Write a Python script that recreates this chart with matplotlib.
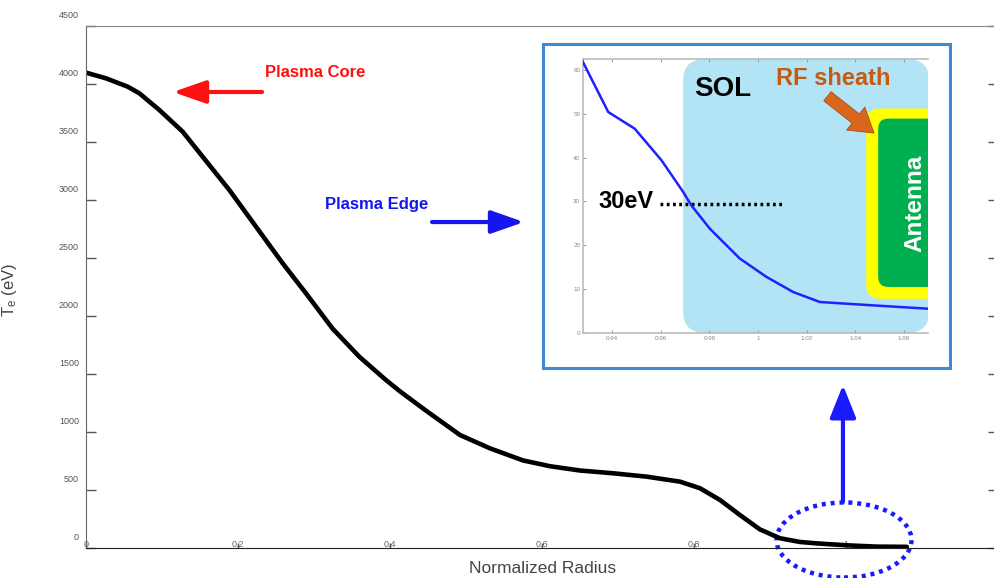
import matplotlib.pyplot as plt
import matplotlib.transforms as mtransforms
from matplotlib.patches import Ellipse, FancyBboxPatch, FancyArrowPatch, Rectangle

plt.rcParams['font.family'] = ['Liberation Sans', 'DejaVu Sans']

# main profile: Te (eV) vs normalized radius
radius = [0.0, 0.0263, 0.0548, 0.0702, 0.0965, 0.1272, 0.1535, 0.1886, 0.2237,
          0.2588, 0.2895, 0.3246, 0.3596, 0.3947, 0.4132, 0.4482, 0.4921,
          0.5316, 0.575, 0.6105, 0.65, 0.6939, 0.7377, 0.7816, 0.8079, 0.8342,
          0.8605, 0.8868, 0.9132, 0.9395, 0.9614, 0.975, 1.005, 1.04, 1.08]
te = [4098, 4049, 3977, 3920, 3776, 3589, 3373, 3086, 2770,
      2454, 2195, 1890, 1649, 1448, 1350, 1180, 974,
      859, 755, 705, 668, 644, 615, 572, 515, 414,
      284, 160, 84, 52, 40, 34, 22, 12, 10]

# zoomed edge profile (inset)
radius_edge = [0.9278, 0.9384, 0.9493, 0.9603, 0.9692, 0.9726, 0.9802, 0.9925,
               1.0035, 1.0145, 1.0255, 1.0474, 1.0698]
te_edge = [62.0, 50.4, 46.6, 39.4, 32.2, 29.1, 23.8, 17.0, 12.8, 9.35, 7.07, 6.3, 5.55]

xticks = [0, 0.2, 0.4, 0.6, 0.8, 1.0]
xtick_labels = ['0', '0.2', '0.4', '0.6', '0.8', '1']
yticks = [0, 500, 1000, 1500, 2000, 2500, 3000, 3500, 4000, 4500]
inset_xticks = [0.94, 0.96, 0.98, 1.0, 1.02, 1.04, 1.06]
inset_xtick_labels = ['0.94', '0.96', '0.98', '1', '1.02', '1.04', '1.06']
inset_yticks = [0, 10, 20, 30, 40, 50, 60]

fig = plt.figure(figsize=(9.95, 5.78), dpi=100)
W, H = 995, 578

# ---- main axes ----
ax = fig.add_axes([86 / W, 30 / H, 912 / W, 522 / H])
ax.set_zorder(0)
ax.plot(radius, te, color='black', lw=3.3, solid_capstyle='round',
        solid_joinstyle='round')
ax.set_xlim(0, 1.2)
ax.set_ylim(0, 4500)
ax.set_xticks(xticks)
ax.set_xticklabels(xtick_labels)
ax.set_yticks(yticks)
ax.tick_params(axis='both', direction='in', colors='#555555', labelsize=6.5,
               width=1.0)
ax.tick_params(axis='y', length=7, pad=5, right=True)
ax.tick_params(axis='x', length=3.5, pad=-6)
for lab in ax.get_xticklabels():
    lab.set_color('#666666')
off = mtransforms.ScaledTranslation(0, 11 / 100, fig.dpi_scale_trans)
for lab in ax.get_yticklabels():
    lab.set_transform(lab.get_transform() + off)
ax.spines['left'].set_color('#666666')
ax.spines['top'].set_color('#888888')
ax.spines['bottom'].set_color('#222222')
ax.spines['right'].set_color('#888888')

ax.set_xlabel('Normalized Radius', fontsize=12.5, color='#444444')
ax.xaxis.set_label_coords((543 - 86) / 912, (548 - 561) / 522)
ax.set_ylabel(r'$\mathregular{T_e}$ (eV)', fontsize=12, color='#444444')
ax.yaxis.set_label_coords((19 - 86) / 912, (548 - 290) / 522)

# annotations on the main plot
ax.text(0.2355, 4095, 'Plasma Core', color='#ff1010', fontsize=12,
        fontweight='bold', ha='left', va='center')
ax.annotate('', xy=(0.1145, 3931), xytext=(0.2316, 3931),
            arrowprops=dict(arrowstyle='-|>,head_length=1.0,head_width=0.35',
                            color='#ff1010', lw=3, mutation_scale=20,
                            shrinkA=0, shrinkB=0))
ax.text(0.3145, 2957, 'Plasma Edge', color='#1515ee', fontsize=12,
        fontweight='bold', ha='left', va='center')
ax.annotate('', xy=(0.5763, 2810), xytext=(0.4553, 2810),
            arrowprops=dict(arrowstyle='-|>,head_length=1.0,head_width=0.35',
                            color='#1515ee', lw=3, mutation_scale=20,
                            shrinkA=0, shrinkB=0))
ax.add_patch(Ellipse((0.9974, 69), 0.1776, 647, fill=False, ec='#1a1aff',
                     lw=3.2, ls=(0, (0.9, 1.1)), clip_on=False))
ax.annotate('', xy=(0.996, 1405), xytext=(0.996, 397),
            arrowprops=dict(arrowstyle='-|>,head_length=1.0,head_width=0.4',
                            color='#1a1aff', lw=3, mutation_scale=20,
                            shrinkA=0, shrinkB=0))

# ---- inset frame ----
frame = Rectangle((543 / W, (H - 368) / H), (950 - 543) / W, (368 - 44) / H,
                  transform=fig.transFigure, fc='white', ec='#3d8bd4', lw=2.2,
                  zorder=1)
fig.add_artist(frame)

# ---- inset axes ----
ins = fig.add_axes([583 / W, (H - 333) / H, (928 - 583) / W, 274 / H])
ins.set_zorder(2)
ins.set_xlim(0.928, 1.07)
ins.set_ylim(0, 62.5)
x_per_px = 0.142 / 345
y_per_px = 62.5 / 274
asp = y_per_px / x_per_px

sol = FancyBboxPatch((0.9692, 0), 1.0705 - 0.9692, 62.5,
                     boxstyle='round,pad=0,rounding_size=%f' % (22 * x_per_px),
                     mutation_aspect=asp, fc='#b2e4f6', ec='none', zorder=0)
ins.add_patch(sol)
sheath = FancyBboxPatch((1.0446, 7.8), 1.08 - 1.0446, 51.2 - 7.8,
                        boxstyle='round,pad=0,rounding_size=%f' % (14 * x_per_px),
                        mutation_aspect=asp, fc='#ffff00', ec='none', zorder=1)
ins.add_patch(sheath)
antenna = FancyBboxPatch((1.0495, 10.5), 1.08 - 1.0495, 48.9 - 10.5,
                         boxstyle='round,pad=0,rounding_size=%f' % (10 * x_per_px),
                         mutation_aspect=asp, fc='#00b050', ec='none', zorder=2)
ins.add_patch(antenna)

ins.plot(radius_edge, te_edge, color='#1f1fff', lw=1.8, zorder=5)
ins.plot([0.9596, 1.0111], [29.5, 29.5], color='black', lw=2.5,
         ls=(0, (0.8, 1.0)), zorder=4)

ins.text(0.9455, 30.0, '30eV', fontsize=17, fontweight='bold', color='black',
         ha='center', va='center', zorder=6)
ins.text(0.9853, 55.7, 'SOL', fontsize=20, fontweight='bold', color='black',
         ha='center', va='center', zorder=6)
ins.text(1.0312, 58.0, 'RF sheath', fontsize=17, fontweight='bold',
         color='#c55a11', ha='center', va='center', zorder=6)
ins.text(1.0646, 29.5, 'Antenna', fontsize=17.5, fontweight='bold',
         color='white', ha='center', va='center', rotation=90, zorder=6)
ins.add_patch(FancyArrowPatch((1.0286, 54.0), (1.0478, 45.6),
                              arrowstyle='simple,head_width=1.5,head_length=1.2,tail_width=0.6',
                              mutation_scale=14, fc='#d9661c', ec='#a84d16',
                              lw=0.6, shrinkA=0, shrinkB=0, zorder=6))

ins.set_xticks(inset_xticks)
ins.set_xticklabels(inset_xtick_labels)
ins.set_yticks(inset_yticks)
ins.tick_params(axis='both', direction='in', colors='#888888', labelsize=4.5,
                length=2.5, width=0.6, pad=2, top=True)
for s in ['left', 'bottom', 'top']:
    ins.spines[s].set_color('#bbbbbb')
    ins.spines[s].set_linewidth(1.2)
ins.spines['right'].set_visible(False)

fig.savefig('out.png', dpi=100)
